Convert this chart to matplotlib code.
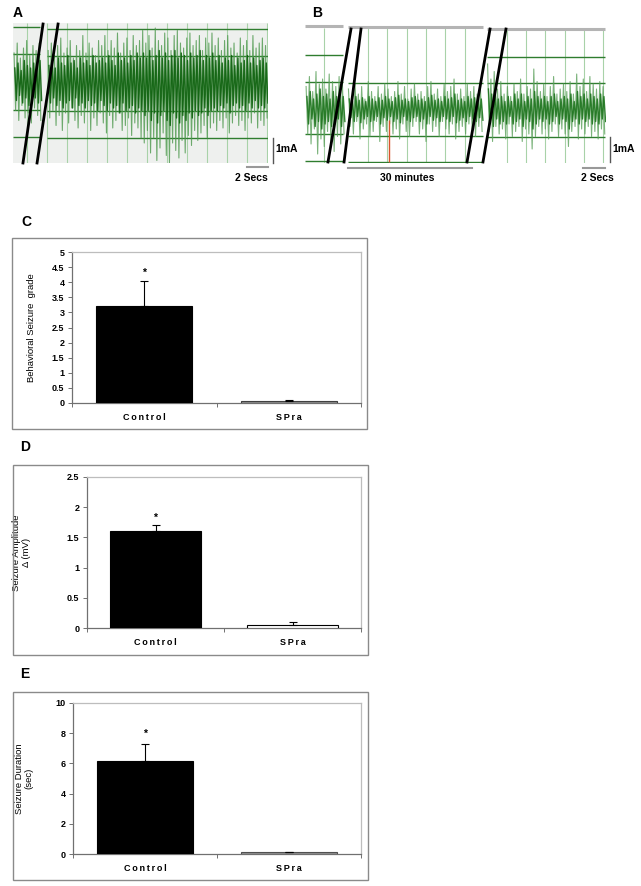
import numpy as np
import matplotlib
matplotlib.use("Agg")
import matplotlib.pyplot as plt
from matplotlib.lines import Line2D
from matplotlib.patches import Rectangle

plt.rcParams['font.family'] = ['Liberation Sans', 'DejaVu Sans']

W, H = 641, 886

# ---- EEG traces (mA): peak / trough pairs every 0.3 s ----
STEP = 0.3

# panel A: seizure in control animal (outer spikes and inner, denser oscillation)
a_left_up = [1.2, 1.6, 1.0, 1.4, 1.7, 1.1, 1.5, 1.3, 1.6]
a_left_lo = [-1.1, -1.5, -0.9, -1.4, -1.2, -1.6, -1.0, -1.3, -1.5]
a_left_in_hi = [0.6, 0.8, 0.5, 0.9, 0.7, 0.6, 0.8, 0.7, 0.9]
a_left_in_lo = [-0.7, -0.5, -0.8, -0.6, -0.9, -0.7, -0.6, -0.8, -0.7]

a_right_up = [1.3, 1.6, 1.1, 1.5, 1.8, 1.2, 1.4, 1.7, 1.0, 1.5, 1.3, 1.9, 1.2, 1.6, 1.4, 1.1, 1.7,
              1.5, 1.9, 1.3, 1.7, 1.4, 2.0, 1.2, 1.6, 1.8, 1.3, 1.9, 1.5, 1.7,
              2.1, 1.6, 1.9, 1.4, 2.2, 1.7, 1.5, 2.0, 1.8, 1.3, 1.9, 2.1, 1.6, 1.4, 1.8, 2.0, 1.5,
              1.7, 1.9, 1.3, 1.8, 1.6, 2.0,
              1.5, 1.8, 1.3, 1.7, 1.9, 1.4, 1.6, 1.2, 1.8, 1.5, 1.7, 1.3, 1.9, 1.4, 1.6, 1.8, 1.5]
a_right_lo = [-1.4, -1.1, -1.7, -1.3, -1.9, -1.2, -1.6, -1.0, -1.5, -1.8, -1.3, -1.6, -1.1, -1.9, -1.4, -1.7, -1.2,
              -1.6, -2.0, -1.3, -1.8, -1.5, -1.2, -1.9, -1.7, -1.4, -2.1, -1.6, -1.8, -2.2,
              -2.4, -1.9, -2.8, -2.2, -3.1, -2.6, -2.0, -2.9, -3.2, -2.4, -2.7, -3.0, -2.3, -2.8, -2.1,
              -2.5, -1.9, -2.3, -2.0, -1.7, -2.2, -1.8, -1.6,
              -1.9, -1.5, -1.8, -1.4, -2.0, -1.6, -1.3, -1.7, -1.5, -1.9, -1.4, -1.6, -1.2, -1.8, -1.5, -1.7, -1.4]
a_right_in_hi = [0.7, 0.9, 0.6, 1.0, 0.8, 0.7, 1.1, 0.8, 0.9, 0.6, 1.0, 0.8, 0.9, 0.7, 1.1, 0.8, 0.9,
                 1.0, 0.8, 1.1, 0.9, 0.7, 1.2, 0.9, 1.0, 0.8, 1.1, 0.9, 1.2, 1.0,
                 1.2, 1.0, 1.3, 0.9, 1.1, 1.3, 1.0, 1.2, 0.9, 1.1, 1.3, 1.0, 1.2, 1.1, 0.9, 1.2, 1.0,
                 1.1, 1.3, 0.9, 1.1, 1.0, 1.2,
                 0.9, 1.1, 0.8, 1.0, 0.9, 1.1, 0.7, 1.0, 0.8, 0.9, 1.1, 0.8, 1.0, 0.7, 0.9, 1.0, 0.8]
a_right_in_lo = [-0.8, -0.6, -0.9, -0.7, -1.0, -0.8, -0.7, -1.0, -0.6, -0.9, -0.8, -1.0, -0.7, -0.9, -0.8, -1.1, -0.7,
                 -0.9, -1.1, -0.8, -1.0, -0.9, -1.2, -0.8, -1.1, -1.0, -0.9, -1.2, -1.0, -1.1,
                 -1.3, -1.1, -1.5, -1.2, -1.6, -1.3, -1.1, -1.5, -1.7, -1.2, -1.4, -1.6, -1.3, -1.5, -1.2,
                 -1.4, -1.1, -1.3, -1.2, -1.0, -1.3, -1.1, -1.0,
                 -1.1, -0.9, -1.0, -0.8, -1.2, -0.9, -0.8, -1.0, -0.9, -1.1, -0.8, -1.0, -0.7, -1.0, -0.9, -1.0, -0.8]

# panel B: SPra treated
b_left_up = [0.9, 1.3, 0.7, 1.5, 1.0, 1.2, 0.8, 1.4, 1.1, 0.9, 1.3, 1.0]
b_left_lo = [-1.0, -1.4, -0.8, -1.8, -1.2, -1.5, -0.9, -1.3, -1.7, -1.1, -1.4, -1.0]
b_left_in_hi = [0.5, 0.7, 0.4, 0.6, 0.8, 0.5, 0.6, 0.4, 0.7, 0.5, 0.6, 0.5]
b_left_in_lo = [-0.6, -0.4, -0.7, -0.5, -0.8, -0.6, -0.5, -0.7, -0.6, -0.4, -0.7, -0.5]

b_mid_up = [0.8, 0.5, 1.0, 0.6, 0.9, 0.4, 1.1, 0.7, 0.5, 0.9, 0.6, 1.0, 0.8, 0.5, 0.7, 1.1, 0.6, 0.9,
            0.4, 0.8, 1.0, 0.6, 0.7, 0.5, 0.9, 1.1, 0.6, 0.8, 0.5, 1.0, 0.7, 0.9, 1.2, 0.6, 0.8, 0.5,
            1.0, 0.7, 0.9, 0.6, 0.8]
b_mid_lo = [-0.7, -1.0, -0.5, -1.2, -0.8, -0.6, -1.1, -0.9, -0.5, -1.3, -0.7, -0.9, -0.6, -1.0, -0.8,
            -1.2, -0.6, -0.9, -1.1, -0.7, -0.5, -1.0, -0.8, -1.3, -0.6, -0.9, -0.7, -1.1, -0.5, -0.8,
            -1.0, -0.6, -1.2, -0.9, -0.7, -1.0, -0.6, -0.8, -1.1, -0.7, -0.9]
b_mid_in_hi = [0.4, 0.3, 0.5, 0.35, 0.45, 0.3, 0.5, 0.4, 0.3, 0.45, 0.35, 0.5, 0.4, 0.3, 0.45, 0.55,
               0.35, 0.4, 0.3, 0.45, 0.5, 0.35, 0.4, 0.3, 0.45, 0.55, 0.35, 0.4, 0.3, 0.5, 0.4, 0.45,
               0.6, 0.35, 0.4, 0.3, 0.5, 0.4, 0.45, 0.35, 0.4]
b_mid_in_lo = [-0.35, -0.5, -0.3, -0.55, -0.4, -0.3, -0.5, -0.45, -0.3, -0.6, -0.35, -0.45, -0.3, -0.5,
               -0.4, -0.55, -0.3, -0.45, -0.5, -0.35, -0.3, -0.5, -0.4, -0.6, -0.3, -0.45, -0.35, -0.5,
               -0.3, -0.4, -0.5, -0.3, -0.55, -0.45, -0.35, -0.5, -0.3, -0.4, -0.5, -0.35, -0.45]

b_right_up = [1.8, 1.2, 1.5, 0.8, 1.1, 0.6, 0.9, 0.5, 1.0, 0.7, 1.2, 0.6, 0.9, 0.8, 1.6, 1.1, 0.7, 1.0,
              0.5, 0.9, 1.3, 0.6, 0.8, 1.0, 0.7, 1.1, 0.6, 1.4, 0.9, 1.2, 0.7, 1.3, 1.0, 0.8, 1.1, 0.9]
b_right_lo = [-0.9, -1.3, -0.7, -1.0, -0.8, -1.2, -0.6, -1.1, -0.9, -0.7, -1.3, -0.8, -1.0, -1.6, -1.1,
              -0.7, -1.0, -0.8, -1.2, -0.9, -0.6, -1.1, -0.8, -1.0, -1.5, -0.9, -0.7, -1.2, -0.8, -1.0,
              -0.7, -1.1, -0.9, -1.2, -0.8, -1.0]
b_right_in_hi = [0.8, 0.6, 0.7, 0.4, 0.5, 0.3, 0.5, 0.3, 0.6, 0.4, 0.6, 0.3, 0.5, 0.4, 0.7, 0.5, 0.4,
                 0.5, 0.3, 0.5, 0.6, 0.3, 0.4, 0.5, 0.4, 0.6, 0.3, 0.7, 0.5, 0.6, 0.4, 0.6, 0.5, 0.4,
                 0.6, 0.5]
b_right_in_lo = [-0.5, -0.7, -0.4, -0.6, -0.5, -0.6, -0.3, -0.6, -0.5, -0.4, -0.7, -0.4, -0.5, -0.8,
                 -0.6, -0.4, -0.5, -0.4, -0.6, -0.5, -0.3, -0.6, -0.4, -0.5, -0.8, -0.5, -0.4, -0.6,
                 -0.4, -0.5, -0.4, -0.6, -0.5, -0.6, -0.4, -0.5]

# ---- bar charts ----
groups = ["Control", "SPra"]
grade_mean = [3.2, 0.05]
grade_err = [0.83, 0.05]
amp_mean = [1.6, 0.05]
amp_err = [0.1, 0.05]
dur_mean = [6.15, 0.1]
dur_err = [1.15, 0.03]

fig = plt.figure(figsize=(W / 100, H / 100), dpi=100)


def fx(px):
    return px / W


def fy(py):
    return 1 - py / H


def px_axes(x0, y0, x1, y1):
    return fig.add_axes([fx(x0), fy(y1), (x1 - x0) / W, (y1 - y0) / H])


def fig_line(xs, ys, **kw):
    fig.add_artist(Line2D([fx(v) for v in xs], [fy(v) for v in ys],
                          transform=fig.transFigure, **kw))


def clean(ax):
    ax.set_xticks([])
    ax.set_yticks([])
    for s in ax.spines.values():
        s.set_visible(False)


HGRID = '#2f7d2f'
VGRID = '#a8d2a8'


def zigzag(ax, t0, up, lo, shift, color, lw, alpha, z):
    n = min(len(up), len(lo))
    t = t0 + STEP * np.arange(n) + shift
    xs = np.column_stack([t, t + STEP / 2]).ravel()
    ys = np.column_stack([up[:n], lo[:n]]).ravel()
    ax.plot(xs, ys, color=color, lw=lw, alpha=alpha, zorder=z)


def trace(ax, t0, up, lo, in_hi, in_lo, outer, inner):
    zigzag(ax, t0, up, lo, 0.0, outer, 0.8, 0.8, 3)
    zigzag(ax, t0, in_hi, in_lo, STEP / 4, inner, 1.0, 0.9, 4)


# ================= panel A =================
axA = px_axes(13, 23, 268, 163)
axA.set_xlim(0, 255 / 10.5)
axA.set_ylim(-3.2, 2.4)
axA.set_facecolor('#eef0ee')
clean(axA)
segA = [(0, 2.57), (3.24, 24.3)]
axA.vlines([1.33 + 1.905 * k for k in range(13)], -3.2, 2.4, color=VGRID, lw=0.8, zorder=1)
for y in [2.24, 1.16, -1.08, -2.16]:
    axA.hlines(y, *segA[0], color=HGRID, lw=1.0, zorder=2)
for y in [2.16, 1.08, -1.12, -2.2]:
    axA.hlines(y, *segA[1], color=HGRID, lw=1.0, zorder=2)
trace(axA, 0.1, a_left_up, a_left_lo, a_left_in_hi, a_left_in_lo, '#4c984c', '#0c600c')
trace(axA, 3.35, a_right_up, a_right_lo, a_right_in_hi, a_right_in_lo, '#4c984c', '#0c600c')
for xb, xt in [(0.95, 2.86), (2.29, 4.29)]:
    axA.plot([xb, xt], [-3.2, 2.36], color='black', lw=2.0, zorder=6, clip_on=False)

fig_line([273, 273], [138, 163], color='#555555', lw=1.0)
fig_line([247, 268], [167, 167], color='#999999', lw=1.5)
fig.text(fx(275), fy(149), "1mA", fontsize=7.5, fontweight='bold', va='center', ha='left')
fig.text(fx(251), fy(178), "2 Secs", fontsize=7.5, fontweight='bold', va='center', ha='center')
fig.text(fx(13), fy(13), "A", fontsize=10, fontweight='bold', va='center', ha='left')

# ================= panel B =================
axB = px_axes(305, 23, 606, 163)
axB.set_xlim(0, 301 / 11)
axB.set_ylim(-2.16, 3.44)
clean(axB)
segB = [(0, 3.45), (3.9, 16.2), (16.55, 27.3)]
vB = [324, 368, 387, 407, 426, 445, 465, 507, 526, 545, 565, 584, 603]
axB.vlines([(p - 305) / 11 for p in vB], -2.16, 3.25, color=VGRID, lw=0.8, zorder=1)
hB = [[2.16, 1.08, -1.0, -2.08], [1.04, -1.08, -2.12], [2.08, 1.04, -1.12]]
topB = [3.32, 3.28, 3.2]
for (s0, s1), ys, yt in zip(segB, hB, topB):
    for y in ys:
        axB.hlines(y, s0, s1, color=HGRID, lw=1.0, zorder=2)
    axB.hlines(yt, s0, s1, color='#b4b4b4', lw=2.2, zorder=2)
trace(axB, 0.1, b_left_up, b_left_lo, b_left_in_hi, b_left_in_lo, '#5aa05a', '#1d741d')
trace(axB, 3.95, b_mid_up, b_mid_lo, b_mid_in_hi, b_mid_in_lo, '#5aa05a', '#1d741d')
trace(axB, 16.6, b_right_up, b_right_lo, b_right_in_hi, b_right_in_lo, '#5aa05a', '#1d741d')
axB.vlines((389 - 305) / 11, -2.12, -0.44, color='#d9532a', lw=1.0, zorder=5)
for xb, xt in [(2.09, 4.18), (3.55, 5.09), (14.73, 16.82), (16.18, 18.27)]:
    axB.plot([xb, xt], [-2.12, 3.2], color='black', lw=2.0, zorder=6, clip_on=False)

fig_line([348, 472], [168, 168], color='#999999', lw=1.5)
fig_line([583, 605], [168, 168], color='#999999', lw=1.5)
fig_line([610, 610], [137, 162], color='#555555', lw=1.0)
fig.text(fx(407), fy(178), "30 minutes", fontsize=7.5, fontweight='bold', va='center', ha='center')
fig.text(fx(597), fy(178), "2 Secs", fontsize=7.5, fontweight='bold', va='center', ha='center')
fig.text(fx(612), fy(149), "1mA", fontsize=7.5, fontweight='bold', va='center', ha='left')
fig.text(fx(312), fy(13), "B", fontsize=10, fontweight='bold', va='center', ha='left')


# ================= bar panels =================
def spaced(s):
    return "\u2009".join(s)


def bar_panel(frame, box, letter_xy, letter, vals, errs, colors, edges,
              ylim, yticks, ylabels, ylabel, label_x, label_fs, star_y):
    fig.patches.append(Rectangle((fx(frame[0]), fy(frame[3])), (frame[2] - frame[0]) / W,
                                 (frame[3] - frame[1]) / H, transform=fig.transFigure,
                                 fill=False, edgecolor='#8a8a8a', lw=1.0))
    fig.text(fx(letter_xy[0]), fy(letter_xy[1]), letter, fontsize=10,
             fontweight='bold', va='center', ha='left')
    ax = px_axes(*box)
    pos = np.arange(len(vals))
    ax.bar(pos, vals, width=0.665, color=colors, edgecolor=edges, lw=0.8, zorder=3)
    ax.errorbar(pos, vals, yerr=[[0] * len(errs), errs], fmt='none', ecolor='black',
                elinewidth=0.8, capsize=3, capthick=0.8, zorder=4)
    ax.text(0, star_y, "*", ha='center', va='center', fontsize=7.5, fontweight='bold')
    ax.set_xlim(-0.5, 1.5)
    ax.set_ylim(*ylim)
    ax.set_yticks(yticks)
    ax.set_yticklabels(ylabels, fontsize=6.5, fontweight='bold')
    ax.set_xticks([-0.5, 0.5, 1.5])
    ax.set_xticklabels([])
    ax.set_xticks(pos, minor=True)
    ax.set_xticklabels([spaced(g) for g in groups], minor=True, fontsize=6.5, fontweight='bold')
    ax.tick_params(axis='x', which='major', length=3, width=0.7, color='#707070', direction='out')
    ax.tick_params(axis='x', which='minor', length=0, pad=7)
    ax.tick_params(axis='y', length=3, width=0.7, color='#707070', pad=2.5)
    for side in ['left', 'bottom']:
        ax.spines[side].set_color('#707070')
        ax.spines[side].set_linewidth(0.9)
    for side in ['top', 'right']:
        ax.spines[side].set_color('#bdbdbd')
        ax.spines[side].set_linewidth(0.9)
    lab = ax.set_ylabel(ylabel, fontsize=label_fs, linespacing=1.1)
    lab.set_va('center')
    ax.yaxis.set_label_coords(label_x, 0.5)
    return ax


bar_panel((12, 238, 367, 429), (72, 252, 361, 403), (21, 222), "C",
          grade_mean, grade_err, ['black', '#8c8c8c'], ['black', '#404040'],
          (0, 5), np.arange(0, 5.01, 0.5),
          ['0', '0.5', '1', '1.5', '2', '2.5', '3', '3.5', '4', '4.5', '5'],
          "Behavioral Seizure  grade", -0.14, 6.8, 4.3)

bar_panel((13, 465, 368, 655), (87, 477, 361, 628), (20, 447), "D",
          amp_mean, amp_err, ['black', 'white'], ['black', 'black'],
          (0, 2.5), [0, 0.5, 1, 1.5, 2, 2.5], ['0', '0.5', '1', '1.5', '2', '2.5'],
          "Seizure Amplitude\n\u0394 (mV)", -0.24, 6.8, 1.82)

bar_panel((13, 692, 368, 880), (73, 703, 361, 854), (20, 674), "E",
          dur_mean, dur_err, ['black', '#909090'], ['black', '#505050'],
          (0, 10), [0, 2, 4, 6, 8, 10], ['0', '2', '4', '6', '8', '10'],
          "Seizure Duration\n(sec)", -0.17, 6.8, 7.95)

fig.savefig("out.png", dpi=100)
